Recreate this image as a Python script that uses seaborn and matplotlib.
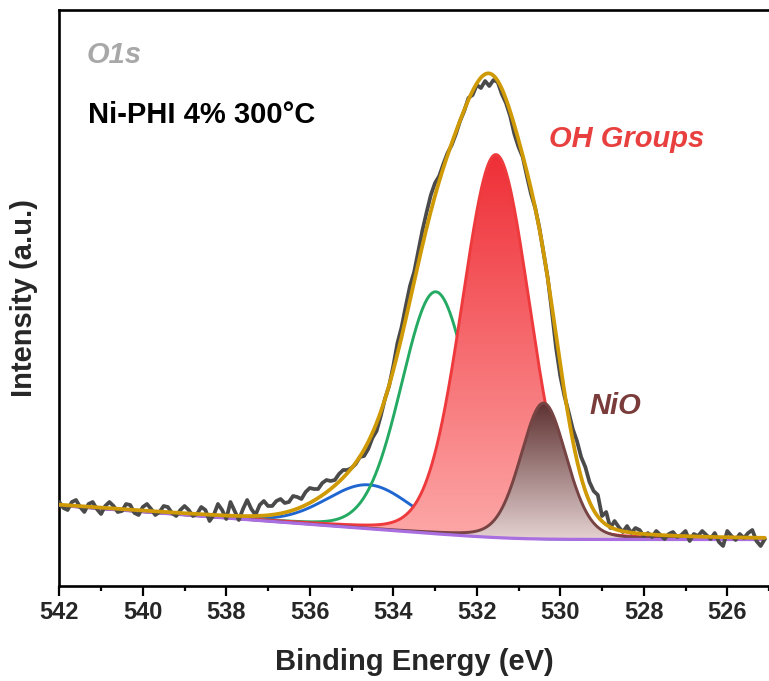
import numpy as np
import pandas as pd
import matplotlib
matplotlib.use("Agg")
import matplotlib.pyplot as plt
import seaborn as sns
from matplotlib.colors import LinearSegmentedColormap

# ---------------- data ----------------
# raw O1s spectrum, binding energy from 542.0 eV down in 0.1 eV steps
raw_start = 542.0
raw_step = 0.1
raw_intensity = [
    84, 78, 76, 84, 86, 79, 74, 82, 84, 77,
    72, 80, 84, 80, 74, 75, 82, 81, 73, 71,
    79, 82, 77, 71, 74, 80, 79, 73, 70, 76,
    80, 76, 70, 72, 79, 76, 65, 71, 82, 76,
    67, 84, 75, 66, 77, 86, 77, 71, 81, 85,
    80, 80, 85, 87, 83, 84, 90, 89, 87, 94,
    98, 97, 97, 103, 106, 105, 106, 112, 116, 116,
    118, 122, 129, 130, 137, 148, 155, 170, 187, 200,
    220, 243, 259, 280, 300, 314, 335, 356, 374, 391,
    403, 410, 422, 433, 441, 452, 465, 475, 488, 491,
    501, 498, 505, 500, 506, 504, 492, 483, 470, 452,
    439, 429, 410, 392, 378, 358, 333, 308, 274, 238,
    210, 190, 174, 157, 145, 129, 119, 104, 95, 91,
    70, 74, 58, 65, 59, 54, 60, 53, 58, 56,
    50, 53, 49, 55, 51, 47, 52, 54, 49, 51,
    55, 45, 52, 50, 55, 51, 47, 53, 44, 40,
    55, 50, 46, 52, 48, 53, 56, 45, 40, 47,
]

# fitted components (Gaussian-Lorentzian), on top of the background
peak_names = ["534.6 eV", "533.0 eV", "OH Groups", "NiO"]
peak_centers = [534.58, 532.98, 531.54, 530.40]
peak_heights = [44, 242, 383, 136]
peak_fwhm = [2.4, 1.95, 1.92, 1.3]
lorentz_fraction = [0.1, 0.1, 0.1, 0.2]

# background (smooth step) parameters
bg_base = 46.5
bg_slope = 3.15
bg_knee = 531.2
bg_soft = 0.6

x_ticks = [542, 540, 538, 536, 534, 532, 530, 528, 526]
x_limits = (542, 525.1)
y_limits = (0, 576)

# ---------------- styling ----------------
sns.set_style("ticks")
plt.rcParams["font.family"] = ["Liberation Sans", "DejaVu Sans"]

raw_energy = np.round(raw_start - raw_step * np.arange(len(raw_intensity)), 2)
raw_df = pd.DataFrame({"energy": raw_energy, "intensity": raw_intensity})

fine_energy = np.linspace(x_limits[0], x_limits[1], 1500)


def background(e):
    return bg_base + bg_slope * bg_soft * np.log1p(np.exp((e - bg_knee) / bg_soft))


def gl_peak(e, c, h, f, m):
    r = 4.0 * (e - c) ** 2 / f ** 2
    return h * ((1 - m) * np.exp(-np.log(2) * r) + m / (1 + r))


bg = background(fine_energy)
comps = [gl_peak(fine_energy, c, h, f, m)
         for c, h, f, m in zip(peak_centers, peak_heights, peak_fwhm, lorentz_fraction)]
envelope = bg + np.sum(comps, axis=0)

fig = plt.figure(figsize=(7.69, 6.81), dpi=100)
ax = fig.add_axes([0.0771, 0.1395, 0.9229, 0.8458])


def gradient_fill(x, ytop, ybot, c_top, c_bot, z):
    poly = ax.fill(np.concatenate([x, x[::-1]]),
                   np.concatenate([ytop, ybot[::-1]]),
                   facecolor="none", edgecolor="none")[0]
    mask = (ytop - ybot) > 0.3
    ymax = ytop.max()
    ymin = ybot[mask].min()
    cmap = LinearSegmentedColormap.from_list("g", [c_bot, c_top])
    grad = np.linspace(0, 1, 256).reshape(-1, 1)
    im = ax.imshow(grad, cmap=cmap, aspect="auto", origin="lower",
                   extent=[x.min(), x.max(), ymin, ymax], zorder=z,
                   interpolation="bilinear")
    im.set_clip_path(poly)


lw_thin = 2.1
# blue and green components (under the filled peaks)
sns.lineplot(x=fine_energy, y=bg + comps[0], ax=ax, color="#1f66d1",
             linewidth=lw_thin, zorder=2, sort=False)
sns.lineplot(x=fine_energy, y=bg + comps[1], ax=ax, color="#24aa62",
             linewidth=lw_thin, zorder=3, sort=False)

# OH groups filled peak
gradient_fill(fine_energy, bg + comps[2], bg, "#ef2f37", "#fda8a8", 4)
sns.lineplot(x=fine_energy, y=bg + comps[2], ax=ax, color="#ee3a3c",
             linewidth=lw_thin, zorder=5, sort=False)

# NiO filled peak
gradient_fill(fine_energy, bg + comps[3], bg, "#5e3232", "#e6d2d2", 6)
sns.lineplot(x=fine_energy, y=bg + comps[3], ax=ax, color="#774343",
             linewidth=lw_thin, zorder=7, sort=False)

# background
sns.lineplot(x=fine_energy, y=bg, ax=ax, color="#a96ee0",
             linewidth=2.3, zorder=8, sort=False)

# raw data
sns.lineplot(data=raw_df, x="energy", y="intensity", ax=ax, color="#4a4a4a",
             linewidth=2.7, zorder=9, sort=False, solid_joinstyle="round")

# envelope
sns.lineplot(x=fine_energy, y=envelope, ax=ax, color="#cf9a06",
             linewidth=2.7, zorder=10, sort=False)

ax.set_xlim(*x_limits)
ax.set_ylim(*y_limits)
ax.set_xticks(x_ticks)
ax.set_xticks([t - 1 for t in x_ticks], minor=True)
ax.set_xticklabels([str(t) for t in x_ticks], fontsize=17, fontweight="bold")
ax.set_yticks([])
ax.tick_params(axis="x", which="major", direction="out", length=7, width=1.6,
               pad=4, color="black")
ax.tick_params(axis="x", which="minor", direction="out", length=3.6, width=1.6,
               color="black")
for side in ["left", "bottom", "top"]:
    ax.spines[side].set_linewidth(1.9)
    ax.spines[side].set_color("black")
ax.spines["right"].set_visible(False)
ax.grid(False)

ax.set_xlabel("Binding Energy (eV)", fontsize=21, fontweight="bold", va="center")
ax.xaxis.set_label_coords(0.5, -0.132)
ax.set_ylabel("Intensity (a.u.)", fontsize=21, fontweight="bold", va="center")
ax.yaxis.set_label_coords(-0.0497, 0.5)

ax.text(541.34, 523, "O1s", fontsize=21, fontweight="bold", fontstyle="italic",
        color="#a8a8a8", va="baseline", ha="left", zorder=11)
ax.text(541.32, 463, "Ni-PHI 4% 300°C", fontsize=21, fontweight="bold",
        color="black", va="baseline", ha="left", zorder=11)
ax.text(530.27, 439, "OH Groups", fontsize=21, fontweight="bold",
        fontstyle="italic", color="#e8403f", va="baseline", ha="left", zorder=11)
ax.text(529.30, 172, "NiO", fontsize=21, fontweight="bold", fontstyle="italic",
        color="#7a3b3b", va="baseline", ha="left", zorder=11)

fig.savefig("out.png", dpi=100)
